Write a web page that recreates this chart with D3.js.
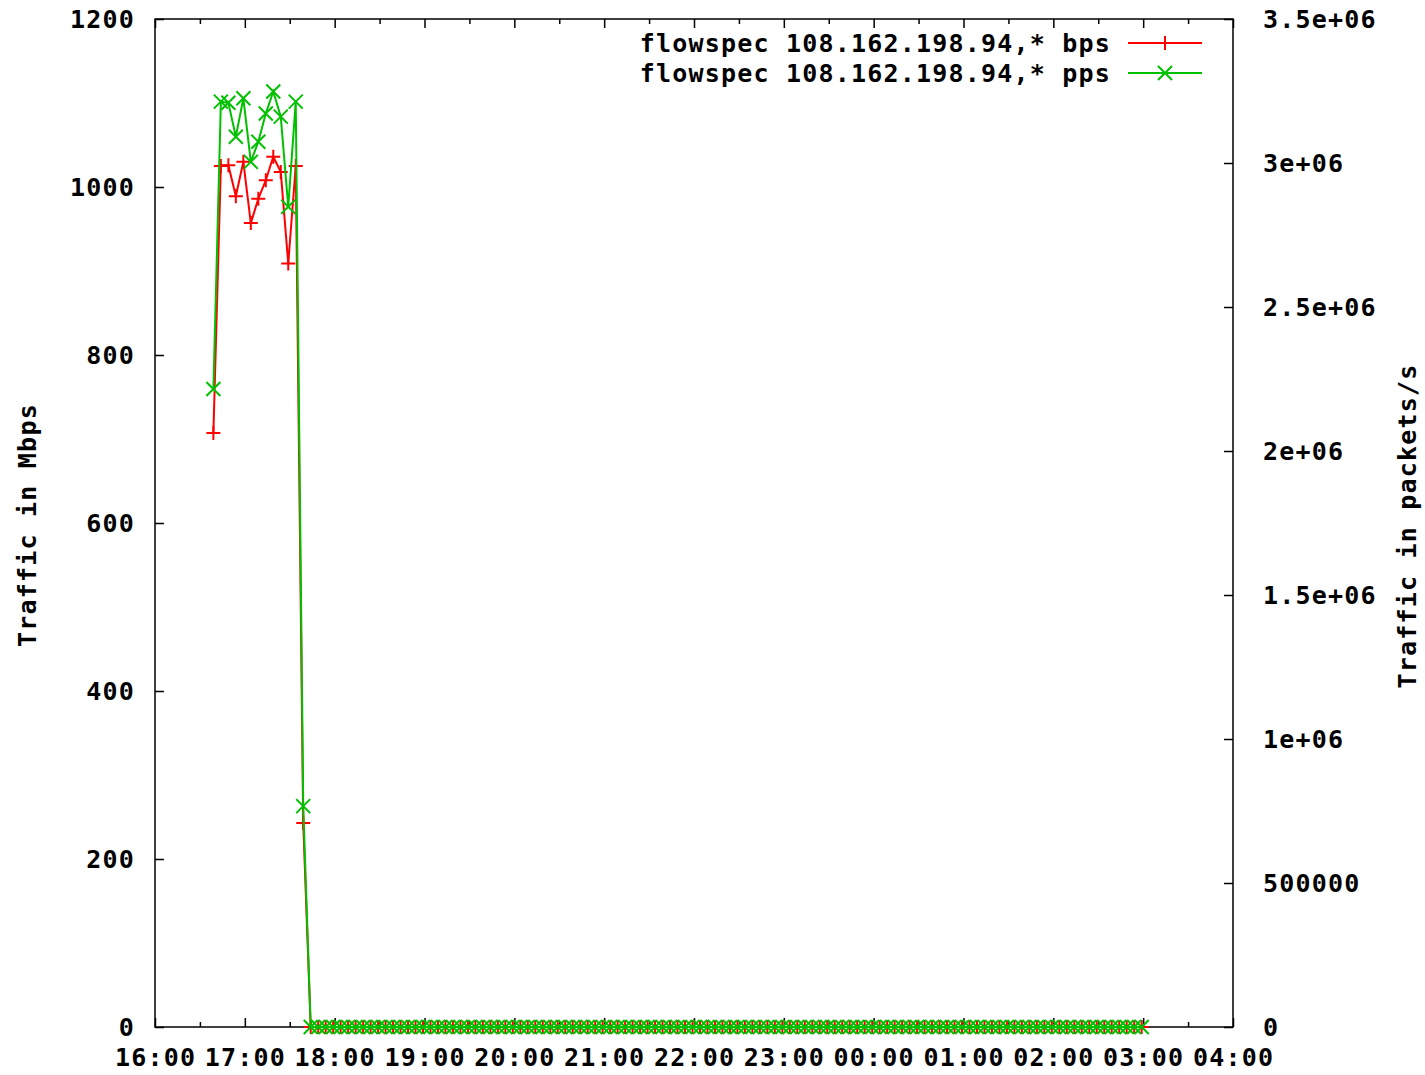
<!DOCTYPE html>
<html>
<head>
<meta charset="utf-8">
<script src="https://cdn.jsdelivr.net/npm/d3@7"></script>
<style>
  html, body { margin: 0; padding: 0; background: #fff; }
  svg text { font-family: "DejaVu Sans Mono", "Liberation Mono", monospace; font-weight: bold; font-size: 25px; letter-spacing: 1.2px; fill: #000; }
</style>
</head>
<body>
<svg id="chart" width="1425" height="1075"></svg>
<script>
// Samples are taken every 5 minutes starting at 16:39
const sampleStart = "2013-01-01T16:39:00";
const sampleStepMinutes = 5;

// Flow throughput in Mbps (left axis)
const bpsMbps = [
  707, 1025, 1026, 989, 1030, 957, 986, 1008, 1036, 1018, 909, 1025, 243,
  0, 0, 0, 0, 0, 0, 0, 0, 0, 0, 0, 0, 0, 0, 0, 0, 0, 0, 0, 0,
  0, 0, 0, 0, 0, 0, 0, 0, 0, 0, 0, 0, 0, 0, 0, 0, 0, 0, 0, 0,
  0, 0, 0, 0, 0, 0, 0, 0, 0, 0, 0, 0, 0, 0, 0, 0, 0, 0, 0, 0,
  0, 0, 0, 0, 0, 0, 0, 0, 0, 0, 0, 0, 0, 0, 0, 0, 0, 0, 0, 0,
  0, 0, 0, 0, 0, 0, 0, 0, 0, 0, 0, 0, 0, 0, 0, 0, 0, 0, 0, 0,
  0, 0, 0, 0, 0, 0, 0, 0, 0, 0, 0, 0
];

// Flow packet rate in packets/s (right axis)
const ppsValues = [
  2215000, 3213000, 3209000, 3091000, 3225000, 3004000, 3074000, 3172000, 3248000, 3161000, 2848000, 3213000, 767000,
  0, 0, 0, 0, 0, 0, 0, 0, 0, 0, 0, 0, 0, 0, 0, 0, 0, 0, 0, 0,
  0, 0, 0, 0, 0, 0, 0, 0, 0, 0, 0, 0, 0, 0, 0, 0, 0, 0, 0, 0,
  0, 0, 0, 0, 0, 0, 0, 0, 0, 0, 0, 0, 0, 0, 0, 0, 0, 0, 0, 0,
  0, 0, 0, 0, 0, 0, 0, 0, 0, 0, 0, 0, 0, 0, 0, 0, 0, 0, 0, 0,
  0, 0, 0, 0, 0, 0, 0, 0, 0, 0, 0, 0, 0, 0, 0, 0, 0, 0, 0, 0,
  0, 0, 0, 0, 0, 0, 0, 0, 0, 0, 0, 0
];

const seriesNames = [
  "flowspec 108.162.198.94,* bps",
  "flowspec 108.162.198.94,* pps"
];

const leftTicks = [0, 200, 400, 600, 800, 1000, 1200];
const rightTicks = [0, 500000, 1000000, 1500000, 2000000, 2500000, 3000000, 3500000];
const rightTickLabels = ["0", "500000", "1e+06", "1.5e+06", "2e+06", "2.5e+06", "3e+06", "3.5e+06"];
const xDomain = ["2013-01-01T16:00:00", "2013-01-02T04:00:00"];
const leftTitle = "Traffic in Mbps";
const rightTitle = "Traffic in packets/s";

const svg = d3.select("#chart");
const m = { left: 155, right: 1233, top: 19, bottom: 1027 };

const t0 = new Date(sampleStart);
const times = bpsMbps.map((_, i) => d3.timeMinute.offset(t0, i * sampleStepMinutes));

const x = d3.scaleTime().domain(xDomain.map(s => new Date(s))).range([m.left, m.right]);
const yL = d3.scaleLinear().domain([0, 1200]).range([m.bottom, m.top]);
const yR = d3.scaleLinear().domain([0, 3500000]).range([m.bottom, m.top]);

const RED = "#ff0000", GREEN = "#00c000";

function styleAxis(g) {
  g.select(".domain").remove();
  g.selectAll(".tick line").attr("stroke", "#000").attr("stroke-width", 1.5);
}

// hour ticks with labels, half-hour minor ticks
const hourTicks = d3.timeHour.every(1).range(x.domain()[0], d3.timeMinute.offset(x.domain()[1], 1));
const halfTicks = d3.timeMinute.every(30).range(x.domain()[0], x.domain()[1]).filter(d => d.getMinutes() === 30);

svg.append("g").attr("transform", `translate(0,${m.bottom})`)
  .call(d3.axisBottom(x).tickValues(hourTicks).tickSize(-9).tickPadding(21).tickFormat(d3.timeFormat("%H:%M")))
  .call(styleAxis);
svg.append("g").attr("transform", `translate(0,${m.bottom})`)
  .call(d3.axisBottom(x).tickValues(halfTicks).tickSize(-5).tickFormat(""))
  .call(styleAxis);
svg.append("g").attr("transform", `translate(0,${m.top})`)
  .call(d3.axisTop(x).tickValues(hourTicks).tickSize(-9).tickFormat(""))
  .call(styleAxis);
svg.append("g").attr("transform", `translate(0,${m.top})`)
  .call(d3.axisTop(x).tickValues(halfTicks).tickSize(-5).tickFormat(""))
  .call(styleAxis);

// left axis
svg.append("g").attr("transform", `translate(${m.left},0)`)
  .call(d3.axisLeft(yL).tickValues(leftTicks).tickSize(-9).tickPadding(20).tickFormat(d3.format("d")))
  .call(styleAxis);
// right axis
svg.append("g").attr("transform", `translate(${m.right},0)`)
  .call(d3.axisRight(yR).tickValues(rightTicks).tickSize(-9).tickPadding(30)
    .tickFormat(d => rightTickLabels[rightTicks.indexOf(d)]))
  .call(styleAxis);

svg.selectAll(".tick text").attr("fill", "#000");
svg.selectAll("g").attr("font-size", null).attr("font-family", null);

// frame
svg.append("rect")
  .attr("x", m.left).attr("y", m.top)
  .attr("width", m.right - m.left).attr("height", m.bottom - m.top)
  .attr("fill", "none").attr("stroke", "#000").attr("stroke-width", 1.5);

// axis titles
svg.append("text").attr("transform", "translate(36,525) rotate(-90)")
  .attr("text-anchor", "middle").text(leftTitle);
svg.append("text").attr("transform", "translate(1416,526) rotate(-90)")
  .attr("text-anchor", "middle").text(rightTitle);

const plusPath = "M-7,0H7M0,-7V7";
const crossPath = "M-7,-7L7,7M-7,7L7,-7";

function drawSeries(values, yScale, color, markerPath) {
  const pts = values.map((v, i) => [x(times[i]), yScale(v)]);
  svg.append("path").attr("d", d3.line()(pts))
    .attr("fill", "none").attr("stroke", color).attr("stroke-width", 2);
  svg.append("g").selectAll("path").data(pts).join("path")
    .attr("transform", d => `translate(${d[0]},${d[1]})`)
    .attr("d", markerPath).attr("fill", "none")
    .attr("stroke", color).attr("stroke-width", 2);
}

drawSeries(bpsMbps, yL, RED, plusPath);
drawSeries(ppsValues, yR, GREEN, crossPath);

// legend
const legend = [
  { name: seriesNames[0], color: RED, marker: plusPath, y: 43 },
  { name: seriesNames[1], color: GREEN, marker: crossPath, y: 73 }
];
const lg = svg.append("g");
legend.forEach(d => {
  lg.append("text").attr("x", 1111).attr("y", d.y).attr("dy", "0.36em")
    .attr("text-anchor", "end").text(d.name);
  lg.append("line").attr("x1", 1128).attr("x2", 1202).attr("y1", d.y).attr("y2", d.y)
    .attr("stroke", d.color).attr("stroke-width", 2);
  lg.append("path").attr("transform", `translate(1165,${d.y})`).attr("d", d.marker)
    .attr("fill", "none").attr("stroke", d.color).attr("stroke-width", 2);
});
</script>
</body>
</html>
